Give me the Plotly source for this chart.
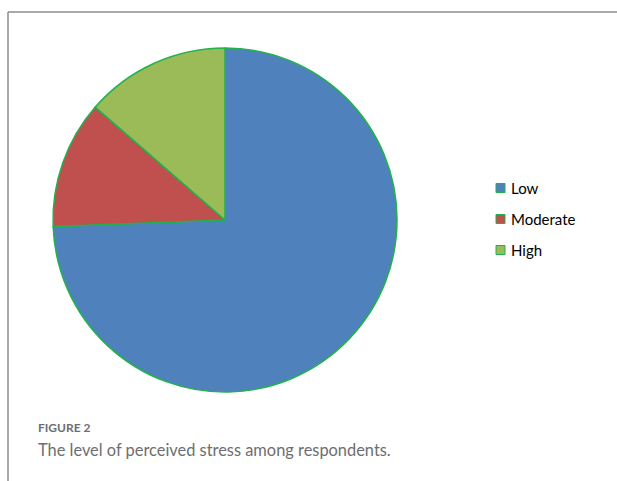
import plotly.graph_objects as go

categories = ["Low", "Moderate", "High"]
values = [74.4, 12.0, 13.6]
colors = ["#4F81BD", "#C0504D", "#9BBB59"]
caption_label = "FIGURE 2"
caption_text = "The level of perceived stress among respondents."

W, H = 617, 481
def px(x): return x / W
def py(y): return 1 - y / H

fig = go.Figure()
fig.add_trace(go.Pie(
    labels=categories, values=values, sort=False, direction="clockwise", rotation=0,
    marker=dict(colors=colors, line=dict(color="#22B14C", width=1.5)),
    textinfo="none", hoverinfo="label+percent", showlegend=False,
    domain=dict(x=[px(53), px(397)], y=[py(392), py(48)]),
))

shapes = [
    dict(type="line", xref="paper", yref="paper", x0=px(8), x1=1, y0=py(12), y1=py(12),
         line=dict(color="#8C8C8C", width=1.5)),
    dict(type="line", xref="paper", yref="paper", x0=px(8), x1=px(8), y0=py(12), y1=0,
         line=dict(color="#8C8C8C", width=1.5)),
]
annotations = []
for i, (cat, col) in enumerate(zip(categories, colors)):
    yc = 188 + 31 * i
    shapes.append(dict(type="rect", xref="paper", yref="paper",
                       x0=px(496), x1=px(505), y0=py(yc + 4.5), y1=py(yc - 4.5),
                       fillcolor=col, line=dict(color="#22B14C", width=1)))
    annotations.append(dict(x=px(509), y=py(yc), xref="paper", yref="paper", text=cat,
                            showarrow=False, xanchor="left", yanchor="middle",
                            font=dict(family="Lato", size=15, color="#000000")))

annotations.append(dict(x=px(36), y=py(427), xref="paper", yref="paper", text="<b>" + caption_label + "</b>",
                        showarrow=False, xanchor="left", yanchor="middle",
                        font=dict(family="Lato", size=12, color="#6D6E70")))
annotations.append(dict(x=px(36), y=py(449), xref="paper", yref="paper", text=caption_text,
                        showarrow=False, xanchor="left", yanchor="middle",
                        font=dict(family="Lato", size=16.4, color="#6D6E70")))

fig.update_layout(width=W, height=H, margin=dict(l=0, r=0, t=0, b=0),
                  paper_bgcolor="white", plot_bgcolor="white",
                  shapes=shapes, annotations=annotations)
fig.write_html("out.html")
